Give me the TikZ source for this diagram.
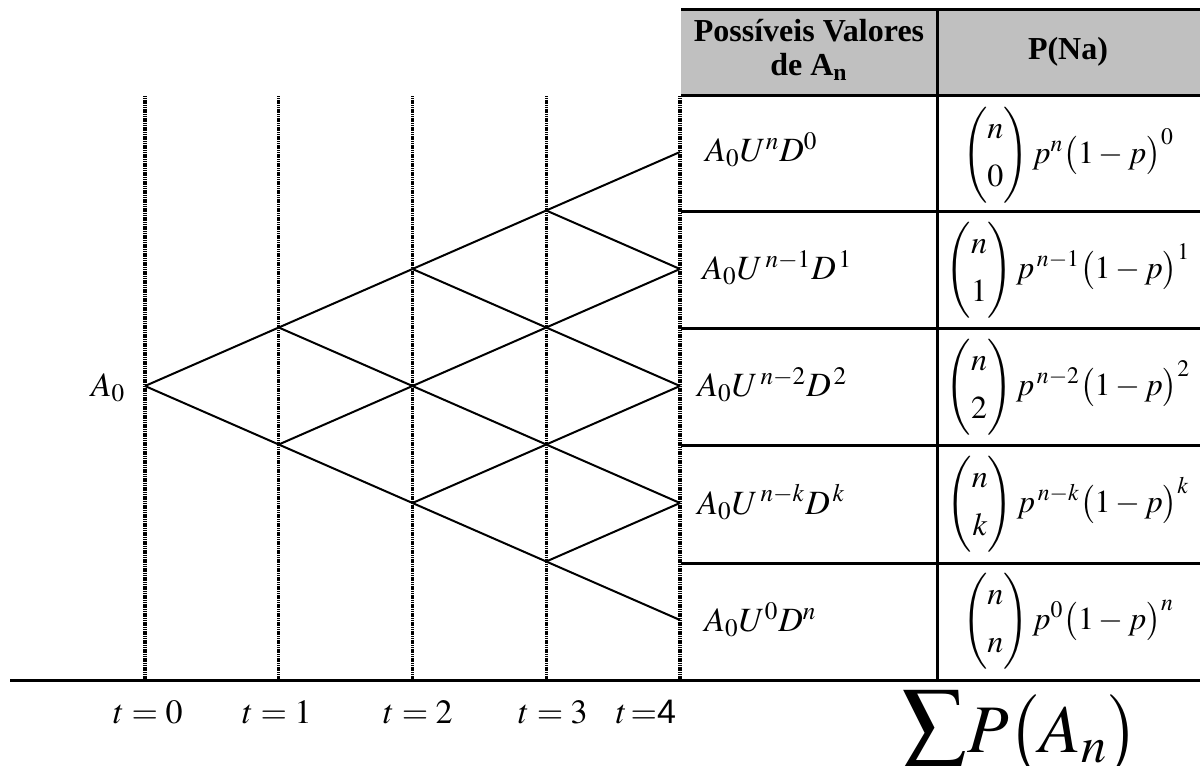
\documentclass[tikz,border=0pt]{standalone}
\usepackage{amsmath}
\usepackage{mathptmx}
\usepackage[no-math]{fontspec}
\setmainfont{Liberation Serif}
\setsansfont{Liberation Sans}
\usepackage{tikz}
\usetikzlibrary{positioning,calc}
\definecolor{headgray}{HTML}{C0C0C0}
\newcommand{\bincol}[2]{\left(\begin{matrix} #1\\[5pt] #2\end{matrix}\right)}

\tikzset{
  gridline/.style={line width=1.5pt},
  timeline/.style={line width=1.6pt, dash pattern=on 0.6pt off 0.3pt},
  branch/.style={line width=1pt},
  cellmath/.style={anchor=west, inner sep=0pt, font=\fontsize{17}{20}\selectfont},
  probmath/.style={inner sep=0pt, font=\fontsize{16}{19}\selectfont},
  headtext/.style={inner sep=0pt, align=center, font=\fontsize{16}{17}\selectfont\bfseries},
  timelabel/.style={inner sep=0pt, font=\fontsize{17}{20}\selectfont}
}

\begin{document}
\begin{tikzpicture}[x=0.5pt, y=-0.5pt]
\useasboundingbox (0,0) rectangle (1200,766);

% header of the table
\fill[headgray] (681,9) rectangle (1200,95);
\node[headtext] (hval) at (809,50) {Possíveis Valores\\de A\textsubscript{n}};
\node[headtext] (hprob) at (1068,52) {P(Na)};

% table rules
\draw[gridline] (681,9) -- (1200,9);
\foreach \yy in {95,211,328,445,563}
  \draw[gridline] (681,\yy) -- (1200,\yy);
\draw[gridline] (937,9) -- (937,682);
\draw[gridline] (10,680) -- (1200,680);

% time lines
\foreach \i in {0,...,4}{
  \coordinate (top\i) at ({145+133.75*\i},96);
  \coordinate (bot\i) at ({145+133.75*\i},680);
  \draw[timeline] (top\i) -- (bot\i);
}
\foreach \i/\xx in {0/148,1/277,2/418,3/553}
  \node[timelabel] (tl\i) at (\xx,712) {$t=\i$};
\node[timelabel] (tl4) at (646,712) {$t\,{=}$\textsf{4}};

% lattice
\foreach \i in {0,...,4}{
  \foreach \j in {0,...,\i}{
    \coordinate (n\i\j) at ({145+133.75*\i},{386-58.5*(\i-2*\j)});
  }
}
\foreach \i in {0,...,3}{
  \pgfmathtruncatemacro{\k}{\i+1}
  \foreach \j in {0,...,\i}{
    \pgfmathtruncatemacro{\m}{\j+1}
    \draw[branch] (n\i\j) -- (n\k\j);
    \draw[branch] (n\i\j) -- (n\k\m);
  }
}
\node[timelabel] (a0) at (108,388) {$A_0$};

% values of A_n
\node[cellmath] (v0) at (705,150) {$A_0U^{n}D^{0}$};
\node[cellmath] (v1) at (702,268) {$A_0U^{\,n-1}D^{\,1}$};
\node[cellmath] (v2) at (697,385) {$A_0U^{\,n-2}D^{\,2}$};
\node[cellmath] (v3) at (697,502) {$A_0U^{\,n-k}D^{\,k}$};
\node[cellmath] (v4) at (704,620) {$A_0U^{0}D^{n}$};

% probabilities
\node[probmath] (p0) at (1068,155) {$\bincol{n}{0} p^{n}\bigl(1-p\bigr)^{0}$};
\node[probmath] (p1) at (1068,270) {$\bincol{n}{1} p^{\,n-1}\bigl(1-p\bigr)^{1}$};
\node[probmath] (p2) at (1068,387) {$\bincol{n}{2} p^{\,n-2}\bigl(1-p\bigr)^{2}$};
\node[probmath] (p3) at (1068,504) {$\bincol{n}{k} p^{\,n-k}\bigl(1-p\bigr)^{k}$};
\node[probmath] (p4) at (1068,621) {$\bincol{n}{n} p^{0}\bigl(1-p\bigr)^{n}$};

% sum
\node[inner sep=0pt, font=\fontsize{34}{40}\selectfont] (sum) at (1020,733) {{\fontsize{46}{48}\selectfont$\sum$}$P\bigl(A_n\bigr)$};
\end{tikzpicture}
\end{document}
